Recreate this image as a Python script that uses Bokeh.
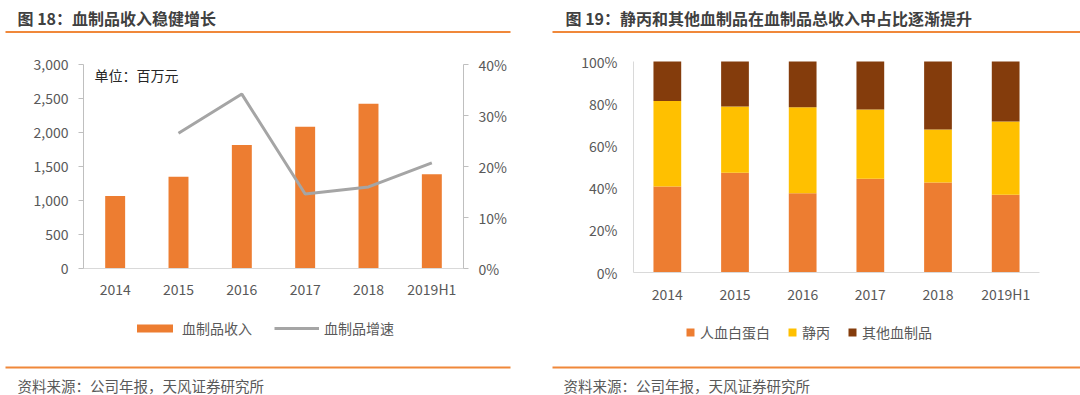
from bokeh.plotting import figure
from bokeh.models import (Range1d, LinearAxis, NumeralTickFormatter, PrintfTickFormatter,
                          Label, BoxAnnotation, Legend, LegendItem, FixedTicker)
from bokeh.layouts import row
from bokeh.embed import file_html
from bokeh.resources import INLINE

# ---------------- data ----------------
years = ["2014", "2015", "2016", "2017", "2018", "2019H1"]
revenue = [1068, 1349, 1818, 2084, 2424, 1385]          # 血制品收入 (百万元)
growth_years = ["2015", "2016", "2017", "2018", "2019H1"]
growth = [26.5, 34.2, 14.6, 16.0, 20.7]                 # 血制品增速 (%)

albumin = [40.8, 47.3, 37.6, 44.4, 42.7, 36.8]          # 人血白蛋白 (%)
ivig = [40.5, 31.4, 40.7, 32.9, 25.1, 34.8]             # 静丙 (%)
others = [18.7, 21.3, 21.7, 22.7, 32.2, 28.4]           # 其他血制品 (%)

left_ticks = [0, 500, 1000, 1500, 2000, 2500, 3000]
right_ticks = [0, 10, 20, 30, 40]
share_ticks = [0, 20, 40, 60, 80, 100]

title1 = "图 18：血制品收入稳健增长"
title2 = "图 19：静丙和其他血制品在血制品总收入中占比逐渐提升"
unit_text = "单位：百万元"
source_text = "资料来源：公司年报，天风证券研究所"

# ---------------- style ----------------
FONT = "Noto Sans CJK SC"
ORANGE = "#ED7D31"
RULE = "#F0883A"
GRAY_LINE = "#A5A5A5"
YELLOW = "#FFC000"
BROWN = "#843C0C"
TICK_TXT = "#595959"
TITLE_TXT = "#404040"

W, H = 540, 395

# category positions (index) and tick label mapping
xpos = list(range(len(years)))
xlabels = {i: y for i, y in enumerate(years)}
gpos = [years.index(y) for y in growth_years]


def x_range_for(px0, px1, n):
    upx = (px1 - px0) / n
    return Range1d(-0.5 - px0 / upx, -0.5 + (W - px0) / upx)


def y_range_for(py0, py1, vmax):
    # py0: pixel of value 0, py1: pixel of value vmax (from top)
    ppu = (py0 - py1) / vmax
    return Range1d(-(H - py0) / ppu, py0 / ppu)


def style_axis(ax, line_color="#D9D9D9", ticks=False, standoff=10):
    ax.axis_line_color = line_color
    ax.axis_line_width = 1
    ax.major_tick_line_color = line_color if ticks else None
    ax.major_tick_out = 5 if ticks else 0
    ax.major_tick_in = 0
    ax.minor_tick_line_color = None
    ax.minor_tick_out = 0
    ax.minor_tick_in = 0
    ax.major_label_text_font = FONT
    ax.major_label_text_font_size = "14px"
    ax.major_label_text_color = TICK_TXT
    ax.major_label_standoff = standoff


def base_fig(xr, yr):
    p = figure(width=W, height=H, x_range=xr, y_range=yr, output_backend="svg",
               toolbar_location=None, x_axis_type=None, y_axis_type=None, min_border=0)
    p.outline_line_color = None
    p.grid.grid_line_color = None
    p.background_fill_color = "white"
    p.border_fill_color = "white"
    return p


def add_text(p, x, y, text, size="14px", bold=False, color=TICK_TXT):
    # x, y: pixel position from the panel's top-left
    p.add_layout(Label(x=x, y=H - y, x_units="screen", y_units="screen", text=text,
                       text_font=FONT, text_font_size=size,
                       text_font_style="bold" if bold else "normal",
                       text_color=color, text_baseline="middle", text_align="left"))


def add_rule(p, left, right, yc):
    p.add_layout(BoxAnnotation(left=left, right=right, top=H - (yc - 1), bottom=H - (yc + 1),
                               left_units="screen", right_units="screen",
                               top_units="screen", bottom_units="screen",
                               fill_color=RULE, fill_alpha=1.0, line_color=None))


# ---------------- left panel ----------------
LX0, LX1, LY0, LY1 = 83, 463, 268, 64
p1 = base_fig(x_range_for(LX0, LX1, len(years)), y_range_for(LY0, LY1, 3000))
p1.extra_y_ranges = {"g": y_range_for(LY0, LY1, 40)}

xax1 = LinearAxis(ticker=FixedTicker(ticks=xpos), major_label_overrides=xlabels,
                  fixed_location=0, bounds=(-0.5, len(years) - 0.5))
style_axis(xax1, line_color="#D9D9D9", ticks=False, standoff=10)
p1.add_layout(xax1, "below")

yax1 = LinearAxis(ticker=FixedTicker(ticks=left_ticks),
                  formatter=NumeralTickFormatter(format="0,0"),
                  fixed_location=-0.5, bounds=(0, 3000))
style_axis(yax1, line_color="#BFBFBF", ticks=True, standoff=10)
p1.add_layout(yax1, "left")

rax1 = LinearAxis(y_range_name="g", ticker=FixedTicker(ticks=right_ticks),
                  formatter=PrintfTickFormatter(format="%d%%"),
                  fixed_location=len(years) - 0.5, bounds=(0, 40))
style_axis(rax1, line_color="#BFBFBF", ticks=True, standoff=10)
p1.add_layout(rax1, "right")

bars = p1.vbar(x=xpos, top=revenue, width=0.315, fill_color=ORANGE, line_color=None)
gline = p1.line(x=gpos, y=growth, y_range_name="g", line_color=GRAY_LINE, line_width=3)

leg1 = Legend(items=[LegendItem(label="血制品收入", renderers=[bars]),
                     LegendItem(label="血制品增速", renderers=[gline])],
              orientation="horizontal", location=(132, 57),
              glyph_width=45, glyph_height=10, label_standoff=5, spacing=22,
              padding=0, margin=0, border_line_color=None, background_fill_alpha=0,
              label_text_font=FONT, label_text_font_size="14px",
              label_text_color=TICK_TXT)
p1.add_layout(leg1)

add_text(p1, 17, 17, title1, size="16px", bold=True, color=TITLE_TXT)
add_rule(p1, 5, 510, 31.5)
add_text(p1, 94, 74, unit_text, size="14px", color="#262626")
add_rule(p1, 5, 510, 367)
add_text(p1, 17, 385, source_text, size="14.5px", color=TICK_TXT)

# ---------------- right panel ----------------
RX0, RX1, RY0, RY1 = 93, 499, 272, 61
p2 = base_fig(x_range_for(RX0, RX1, len(years)), y_range_for(RY0, RY1, 100))

xax2 = LinearAxis(ticker=FixedTicker(ticks=xpos), major_label_overrides=xlabels,
                  fixed_location=0, bounds=(-0.5, len(years) - 0.5))
style_axis(xax2, line_color="#D9D9D9", ticks=False, standoff=11)
p2.add_layout(xax2, "below")

yax2 = LinearAxis(ticker=FixedTicker(ticks=share_ticks),
                  formatter=PrintfTickFormatter(format="%d%%"),
                  fixed_location=-0.5, bounds=(0, 100))
style_axis(yax2, line_color="#D9D9D9", ticks=False, standoff=16)
p2.add_layout(yax2, "left")

src = {"x": xpos, "albumin": albumin, "ivig": ivig, "others": others}
stack = p2.vbar_stack(["albumin", "ivig", "others"], x="x", source=src, width=0.41,
                      color=[ORANGE, YELLOW, BROWN], line_color=None)

leg2 = Legend(items=[LegendItem(label="人血白蛋白", renderers=[stack[0]]),
                     LegendItem(label="静丙", renderers=[stack[1]]),
                     LegendItem(label="其他血制品", renderers=[stack[2]])],
              orientation="horizontal", location=(145, 53),
              glyph_width=10, glyph_height=10, label_standoff=5, spacing=17,
              padding=0, margin=0, border_line_color=None, background_fill_alpha=0,
              label_text_font=FONT, label_text_font_size="14px",
              label_text_color=TICK_TXT)
p2.add_layout(leg2)

add_text(p2, 25, 17, title2, size="16px", bold=True, color=TITLE_TXT)
add_rule(p2, 12, 540, 31.5)
add_rule(p2, 12, 540, 367)
add_text(p2, 23, 385, source_text, size="14.5px", color=TICK_TXT)

layout = row(p1, p2)
open("out.html", "w").write(file_html(layout, INLINE))
